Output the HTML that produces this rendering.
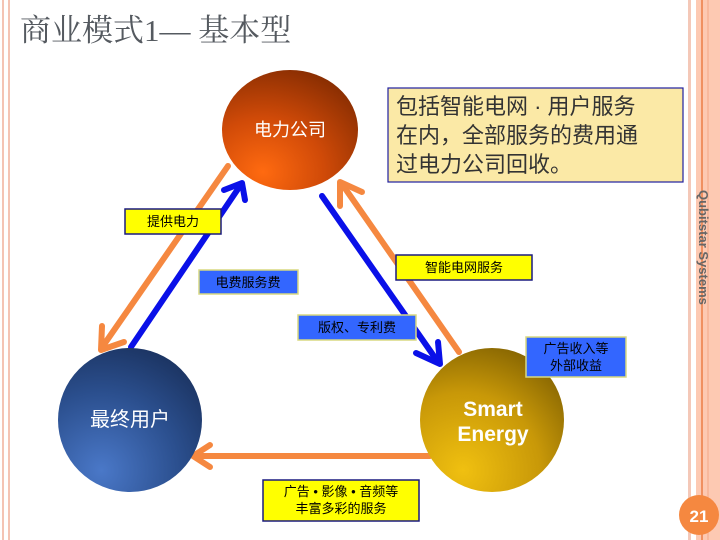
<!DOCTYPE html>
<html><head><meta charset="utf-8"><style>
body{margin:0;width:720px;height:540px;overflow:hidden;background:#fff;font-family:"Liberation Sans","Noto Sans CJK SC",sans-serif}
</style></head><body>
<svg width="720" height="540" xmlns="http://www.w3.org/2000/svg" style="position:absolute;left:0;top:0">
<defs>
<radialGradient id="gP" cx="0.3" cy="0.85" r="0.9"><stop offset="0" stop-color="#ff6a10"/><stop offset="0.5" stop-color="#d04a08"/><stop offset="1" stop-color="#8a2e02"/></radialGradient>
<radialGradient id="gU" cx="0.3" cy="0.85" r="0.9"><stop offset="0" stop-color="#4a78c8"/><stop offset="0.6" stop-color="#2b4f8e"/><stop offset="1" stop-color="#1c3564"/></radialGradient>
<radialGradient id="gS" cx="0.3" cy="0.85" r="0.9"><stop offset="0" stop-color="#f0c010"/><stop offset="0.6" stop-color="#c89808"/><stop offset="1" stop-color="#8a6802"/></radialGradient>
</defs>
<line x1="3" y1="0" x2="3" y2="540" stroke="#f4c4b4" stroke-width="2"/>
<line x1="9" y1="0" x2="9" y2="540" stroke="#f4c4b4" stroke-width="2"/>
<rect x="688" y="0" width="3" height="540" fill="#f4c8b8"/>
<rect x="696" y="0" width="24" height="540" fill="#fdc9b2"/>
<rect x="701" y="0" width="2" height="540" fill="#f09060"/>
<rect x="707" y="0" width="2" height="540" fill="#f8b89c"/>
<text x="20" y="41" font-family="Liberation Serif,Noto Serif CJK SC,serif" font-size="31" fill="#555a60">商业模式1— 基本型</text>
<g stroke-width="6" fill="none" stroke-linecap="round" stroke-linejoin="round">
<line x1="228" y1="166" x2="103" y2="346" stroke="#f58840"/>
<polyline points="102,326 101,350 124,342" stroke="#f58840"/>
<line x1="131" y1="347" x2="240" y2="186" stroke="#0a10e8"/>
<polyline points="224,190 242,183 245,200" stroke="#0a10e8"/>
<line x1="322" y1="196" x2="438" y2="362" stroke="#0a10e8"/>
<polyline points="416,353 440,364 438,342" stroke="#0a10e8"/>
<line x1="459" y1="352" x2="342" y2="184" stroke="#f58840"/>
<polyline points="340,206 340,182 362,192" stroke="#f58840"/>
<line x1="430" y1="456" x2="194" y2="456" stroke="#f58840"/>
<polyline points="210,445 193,456 210,467" stroke="#f58840"/>
</g>
<ellipse cx="290" cy="130" rx="68" ry="60" fill="url(#gP)"/>
<circle cx="130" cy="420" r="72" fill="url(#gU)"/>
<circle cx="492" cy="420" r="72" fill="url(#gS)"/>
<text x="290" y="136" text-anchor="middle" font-size="18" fill="#fff">电力公司</text>
<text x="130" y="426" text-anchor="middle" font-size="20" fill="#fff">最终用户</text>
<text x="493" y="416" text-anchor="middle" font-size="21" font-weight="bold" fill="#fff">Smart</text>
<text x="493" y="441" text-anchor="middle" font-size="21" font-weight="bold" fill="#fff">Energy</text>
<g font-size="13" text-anchor="middle" fill="#000">
<rect x="125" y="209" width="96" height="25" fill="#ffff00" stroke="#1a1a80" stroke-width="1.5"/><text x="173" y="226">提供电力</text>
<rect x="199" y="270" width="99" height="24" fill="#3366ff" stroke="#d8d880" stroke-width="1.5"/><text x="248" y="287">电费服务费</text>
<rect x="396" y="255" width="136" height="25" fill="#ffff00" stroke="#1a1a80" stroke-width="1.5"/><text x="464" y="272">智能电网服务</text>
<rect x="298" y="315" width="118" height="25" fill="#3366ff" stroke="#d8d880" stroke-width="1.5"/><text x="357" y="332">版权、专利费</text>
<rect x="526" y="337" width="100" height="40" fill="#3366ff" stroke="#d8d880" stroke-width="1.5"/><text x="576" y="353">广告收入等</text><text x="576" y="370">外部收益</text>
<rect x="263" y="480" width="156" height="41" fill="#ffff00" stroke="#1a1a80" stroke-width="1.5"/><text x="341" y="496">广告 • 影像 • 音频等</text><text x="341" y="513">丰富多彩的服务</text>
</g>
<rect x="388" y="88" width="295" height="94" fill="#fbe9a6" stroke="#2020a0" stroke-width="1.2"/>
<g font-size="22" fill="#333">
<text x="396" y="114">包括智能电网 · 用户服务</text>
<text x="396" y="143">在内，全部服务的费用通</text>
<text x="396" y="172">过电力公司回收。</text>
</g>
<text transform="translate(699,190) rotate(90)" font-size="13" font-weight="bold" fill="#666">Qubitstar Systems</text>
<circle cx="699" cy="515" r="20" fill="#f58840"/>
<text x="699" y="522" text-anchor="middle" font-size="17" font-weight="bold" fill="#fff">21</text>
</svg>
</body></html>
